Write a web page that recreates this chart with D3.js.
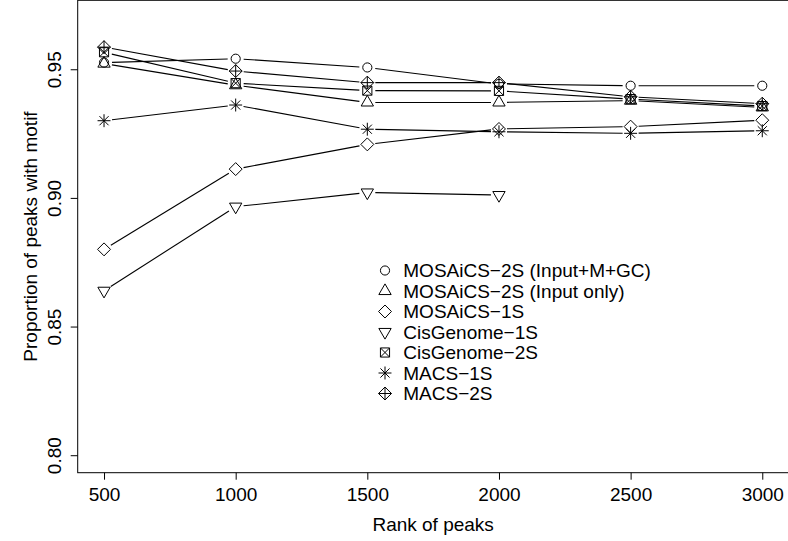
<!DOCTYPE html>
<html><head><meta charset="utf-8">
<script src="https://cdn.jsdelivr.net/npm/d3@7"></script>
<style>
body{margin:0;background:#fff}
svg{display:block}
text{font-family:"Liberation Sans",Arial,Helvetica,sans-serif;fill:#000}
</style>
</head><body>
<svg id="chart" width="788" height="541"></svg>
<script>
// ---------------- data ----------------
const ranks = [500, 1000, 1500, 2000, 2500, 3000];
const seriesNames = [
  "MOSAiCS\u22122S (Input+M+GC)",
  "MOSAiCS\u22122S (Input only)",
  "MOSAiCS\u22121S",
  "CisGenome\u22121S",
  "CisGenome\u22122S",
  "MACS\u22121S",
  "MACS\u22122S"
];
const seriesSymbols = ["pch1", "pch2", "pch5", "pch6", "pch7", "pch8", "pch9"];
const mosaics2sFull  = [0.9526, 0.9541, 0.9507, 0.9443, 0.9436, 0.9436];
const mosaics2sInput = [0.9522, 0.9438, 0.9371, 0.9371, 0.9378, 0.9352];
const mosaics1s      = [0.8800, 0.9112, 0.9208, 0.9268, 0.9277, 0.9302];
const cisGenome1s    = [0.8639, 0.8966, 0.9021, 0.9011];
const cisGenome2s    = [0.9566, 0.9446, 0.9417, 0.9416, 0.9384, 0.9357];
const macs1s         = [0.9300, 0.9361, 0.9267, 0.9257, 0.9251, 0.9261];
const macs2s         = [0.9586, 0.9493, 0.9448, 0.9448, 0.9393, 0.9366];
const seriesValues = [mosaics2sFull, mosaics2sInput, mosaics1s, cisGenome1s, cisGenome2s, macs1s, macs2s];
const xTicks = [500, 1000, 1500, 2000, 2500, 3000];
const yTicks = [0.80, 0.85, 0.90, 0.95];
const xLim = [500, 3000];
const yLim = [0.80, 0.97];
const xTitle = "Rank of peaks";
const yTitle = "Proportion of peaks with motif";

// ---------------- layout ----------------
const svg = d3.select("#chart");
const plot = {left: 77.7, right: 788.6, top: 0.3, bottom: 472.7};
const ext = (l) => { const d = (l[1] - l[0]) * 0.04; return [l[0] - d, l[1] + d]; };
const x = d3.scaleLinear().domain(ext(xLim)).range([plot.left, plot.right]);
const y = d3.scaleLinear().domain(ext(yLim)).range([plot.bottom, plot.top]);
const FS = 19;

// box
svg.append("rect")
  .attr("x", plot.left).attr("y", plot.top)
  .attr("width", plot.right - plot.left).attr("height", plot.bottom - plot.top)
  .attr("fill", "none").attr("stroke", "#000").attr("stroke-width", 1);

// x axis
const gx = svg.append("g").attr("transform", `translate(0,${plot.bottom})`)
  .call(d3.axisBottom(x).tickValues(xTicks).tickSize(7).tickPadding(7.6).tickFormat(d3.format("d")));
gx.select(".domain").remove();
gx.selectAll("line").attr("stroke", "#000");
gx.selectAll("text").attr("font-size", FS).attr("font-family", '"Liberation Sans",Arial,sans-serif').attr("fill", "#000");

// y axis
const gy = svg.append("g").attr("transform", `translate(${plot.left},0)`)
  .call(d3.axisLeft(y).tickValues(yTicks).tickSize(7).tickFormat(d3.format(".2f")));
gy.select(".domain").remove();
gy.selectAll("line").attr("stroke", "#000");
gy.selectAll("text")
  .attr("x", null).attr("dy", null).attr("y", 0)
  .attr("text-anchor", "middle")
  .attr("transform", "translate(-17,0) rotate(-90)")
  .attr("font-size", FS).attr("font-family", '"Liberation Sans",Arial,sans-serif').attr("fill", "#000");

// titles
svg.append("text").attr("x", (plot.left + plot.right) / 2).attr("y", 531)
  .attr("text-anchor", "middle").attr("font-size", FS).text(xTitle);
svg.append("text")
  .attr("transform", `translate(37,${(plot.top + plot.bottom) / 2}) rotate(-90)`)
  .attr("text-anchor", "middle").attr("font-size", FS).text(yTitle);

// ---------------- symbols (R pch geometry) ----------------
const S = 12.2, R0 = 0.375 * S;
function drawSymbol(g, type) {
  const st = {fill: "none", stroke: "#000", "stroke-width": 1};
  const p = (d) => { const e = g.append("path").attr("d", d); for (const k in st) e.attr(k, st[k]); };
  if (type === "pch1") {
    const c = g.append("circle").attr("r", R0); for (const k in st) c.attr(k, st[k]);
  } else if (type === "pch2" || type === "pch6") {
    const r = 1.5551 * R0, hw = 1.3468 * R0, yc = 0.7776 * R0, sg = type === "pch2" ? 1 : -1;
    p(`M0,${-sg * r}L${hw},${sg * yc}L${-hw},${sg * yc}Z`);
  } else if (type === "pch5") {
    const h = Math.SQRT2 * R0;
    p(`M${-h},0L0,${-h}L${h},0L0,${h}Z`);
  } else if (type === "pch7") {
    const h = R0;
    p(`M${-h},${-h}H${h}V${h}H${-h}Z M${-h},${-h}L${h},${h} M${-h},${h}L${h},${-h}`);
  } else if (type === "pch8") {
    const h = R0, q = Math.SQRT2 * R0;
    p(`M${-h},${-h}L${h},${h} M${-h},${h}L${h},${-h} M${-q},0H${q} M0,${-q}V${q}`);
  } else if (type === "pch9") {
    const h = Math.SQRT2 * R0;
    p(`M${-h},0L0,${-h}L${h},0L0,${h}Z M${-h},0H${h} M0,${-h}V${h}`);
  }
}

// ---------------- series (type = "b") ----------------
const GAP = 8;
seriesValues.forEach((vals, i) => {
  const g = svg.append("g");
  const pts = vals.map((v, j) => [x(ranks[j]), y(v)]);
  for (let j = 0; j < pts.length - 1; j++) {
    const [x0, y0] = pts[j], [x1, y1] = pts[j + 1];
    const L = Math.hypot(x1 - x0, y1 - y0);
    if (L <= 2 * GAP) continue;
    const ux = (x1 - x0) / L, uy = (y1 - y0) / L;
    g.append("line")
      .attr("x1", x0 + ux * GAP).attr("y1", y0 + uy * GAP)
      .attr("x2", x1 - ux * GAP).attr("y2", y1 - uy * GAP)
      .attr("stroke", "#000").attr("stroke-width", 1.1);
  }
  pts.forEach(([px, py]) => {
    drawSymbol(g.append("g").attr("transform", `translate(${px},${py})`), seriesSymbols[i]);
  });
});

// ---------------- legend ----------------
const legX = 385, legTextX = 403.3, legY0 = 270.5, legStep = 20.5;
seriesNames.forEach((name, i) => {
  const ly = legY0 + i * legStep;
  drawSymbol(svg.append("g").attr("transform", `translate(${legX},${ly})`), seriesSymbols[i]);
  svg.append("text").attr("x", legTextX).attr("y", ly).attr("dy", "0.36em")
    .attr("font-size", FS).text(name);
});
</script>
</body></html>
